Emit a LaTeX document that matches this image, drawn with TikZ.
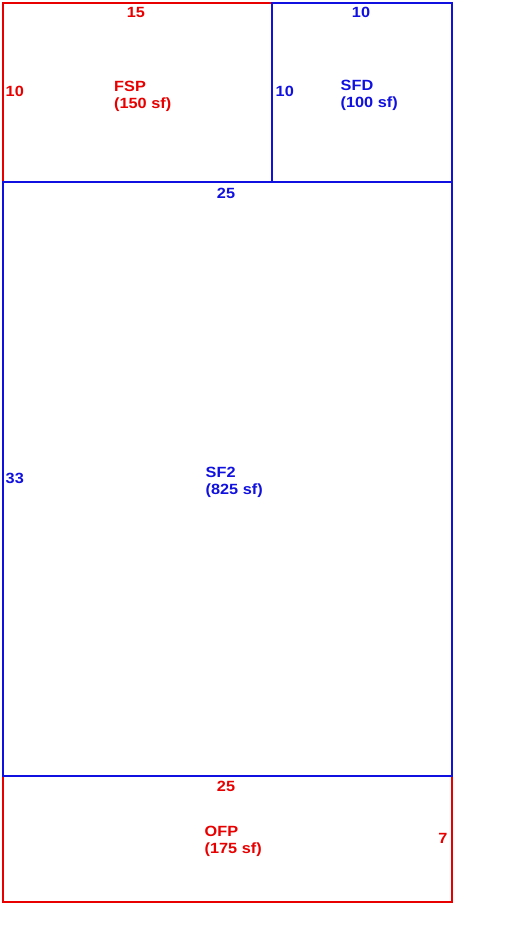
\documentclass[tikz,border=0pt]{standalone}
\usepackage{fontspec}
\setmainfont{Liberation Sans}
\newfontfamily\planfont[FakeStretch=1.1]{Liberation Sans}
\usetikzlibrary{positioning}
\definecolor{planred}{RGB}{232,0,0}
\definecolor{planblue}{RGB}{16,16,224}

\begin{document}
\begin{tikzpicture}[x=1pt,y=-1pt,
      redwall/.style={draw=planred,line width=1.15pt},
      bluewall/.style={draw=planblue,line width=1.15pt},
      dim/.style={inner sep=0pt,font=\planfont\fontsize{14.8}{17}\selectfont\bfseries},
      room/.style={dim,align=left,anchor=north west}]

    \useasboundingbox (0,0) rectangle (512,929);

    \draw[redwall] (3,3) rectangle (272,182);
    \draw[redwall] (3,776) rectangle (452,902);
    \draw[bluewall] (272,3) rectangle (452,182);
    \draw[bluewall] (3,182) rectangle (452,776);

    \node[room,text=planred]
      (FSP) at (114,80.5) {FSP\\(150 sf)};
    \node[dim,text=planred]
      (FSPtop) at (136,12) {15};
    \node[dim,text=planred,anchor=west]
      (FSPside) at (5.5,91.5) {10};

    \node[room,text=planblue]
      (SFD) at (340.5,80) {SFD\\(100 sf)};
    \node[dim,text=planblue]
      (SFDtop) at (361,12) {10};
    \node[dim,text=planblue,anchor=west]
      (SFDside) at (275.5,91.5) {10};

    \node[room,text=planblue]
      (SF2) at (205.5,466.5) {SF2\\(825 sf)};
    \node[dim,text=planblue]
      (SF2top) at (226,193) {25};
    \node[dim,text=planblue,anchor=west]
      (SF2side) at (5.5,478) {33};

    \node[room,text=planred]
      (OFP) at (204.5,825.5) {OFP\\(175 sf)};
    \node[dim,text=planred]
      (OFPtop) at (226,786.5) {25};
    \node[dim,text=planred]
      (OFPside) at (443,838) {7};

  \end{tikzpicture}
\end{document}
